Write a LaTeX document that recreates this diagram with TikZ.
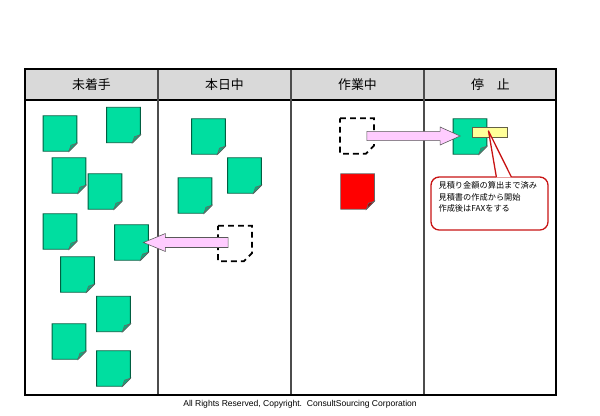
\documentclass[tikz,border=0pt]{standalone}
\usepackage{fontspec}
\setmainfont{Noto Sans CJK JP}
\newfontfamily\footfont{Liberation Sans}
\usetikzlibrary{calc, positioning}
\definecolor{notegreen}{RGB}{0,222,160}
\definecolor{noteedge}{RGB}{0,95,65}
\definecolor{flapgreen}{RGB}{0,180,125}
\definecolor{arrowpink}{RGB}{255,204,255}
\definecolor{memoyellow}{RGB}{255,255,153}
\definecolor{headgray}{RGB}{217,217,217}
\definecolor{callred}{RGB}{200,20,20}

\newcommand\notebody[2]{%
  \draw[#2] (#1.north west) -- (#1.north east) -- ($(#1.south east)+(0,-8)$)
    -- ($(#1.south east)+(-8,0)$) -- (#1.south west) -- cycle;}
\newcommand\noteflap[2]{%
  \filldraw[fill=#2, draw=black!60, line width=0.5pt] ($(#1.south east)+(0,-8)$)
    -- ($(#1.south east)+(-8,0)$) -- ($(#1.south east)+(-6,-6)$) -- cycle;}

\begin{document}
\begin{tikzpicture}[x=0.03cm, y=-0.03cm,
  note/.style={minimum width=1cm, minimum height=1.05cm, inner sep=0pt},
  greennote/.style={fill=notegreen, draw=noteedge, line width=0.8pt},
  rednote/.style={fill=red, draw=black!60, line width=0.6pt},
  dashnote/.style={draw=black, line width=1.5pt, dash pattern=on 5pt off 3.5pt},
  headtext/.style={font=\fontsize{11}{13}\selectfont, inner sep=0pt},
  colline/.style={gray!60!black, line width=0.9pt},
  blockarrow/.style={fill=arrowpink, draw=black!65, line width=0.5pt},
  callbox/.style={draw=callred, line width=1.1pt, rounded corners=7pt, fill=white,
    minimum width=3.51cm, minimum height=1.59cm, inner sep=0pt},
  calltext/.style={font=\fontsize{7}{9.8}\selectfont, align=left, inner sep=0pt}]
  \useasboundingbox (0,0) rectangle (600,415);

  \fill[headgray] (25,69) rectangle (556,100);
  \draw[black, line width=1pt] (25,100) -- (556,100);
  \foreach \x in {158,291,424} {
    \draw[colline] (\x,69) -- (\x,395);
  }
  \draw[black, line width=1.3pt] (25,69) rectangle (556,395);
  \foreach \t [count=\i] in {未着手,本日中,作業中,停　止} {
    \node[headtext] (h\i) at (133*\i-41.5,84.5) {\t};
  }

  \foreach \n/\x/\y in {a1/60/133.5, a2/123.5/125, a3/69/175.5, a4/105/191.5,
      a5/60/231.5, a6/131.5/242.5, a7/77.5/274.5, a8/113.5/314, a9/69/341.5,
      a10/113.5/368.5, b1/208.5/136.5, b2/244.5/175.5, b3/195/195.5, s1/470/136.5} {
    \node[note] (\n) at (\x,\y) {};
    \notebody{\n}{greennote}
    \noteflap{\n}{flapgreen}
  }
  \node[note] (r1) at (357.5,191.5) {};
  \notebody{r1}{rednote}
  \noteflap{r1}{red!65!black}
  \foreach \n/\x/\y in {d2/235/243.5, d3/357/136} {
    \node[note] (\n) at (\x,\y) {};
    \notebody{\n}{dashnote}
  }

  \draw[blockarrow] ($(d2.west |- a6.east)+(10,-5)$) -- ($(a6.east)+(17,-5)$)
    -- ($(a6.east)+(17,-9)$) -- ($(a6.east)+(-5,0)$) -- ($(a6.east)+(17,9)$)
    -- ($(a6.east)+(17,5)$) -- ($(d2.west |- a6.east)+(10,5)$) -- cycle;
  \draw[blockarrow] ($(d3.east)+(-7,-4.7)$) -- ($(s1.west |- d3.east)+(-13,-4.7)$)
    -- ($(s1.west |- d3.east)+(-13,-9)$) -- ($(s1.west |- d3.east)+(7,0)$)
    -- ($(s1.west |- d3.east)+(-13,9)$) -- ($(s1.west |- d3.east)+(-13,4.7)$)
    -- ($(d3.east)+(-7,4.7)$) -- cycle;

  \node[fill=memoyellow, draw=black!70!yellow, line width=0.5pt, inner sep=0pt,
    minimum width=1.05cm, minimum height=0.3cm] (memo) at (489.5,132) {};

  \node[callbox] (call) at (489.5,203.5) {};
  \coordinate (tip) at ($(memo.center)+(-1,-1)$);
  \fill[white] ($(call.north west)+(66,1)$) -- (tip) -- ($(call.north west)+(81,1)$) -- cycle;
  \draw[callred, line width=1.1pt, line join=round] ($(call.north west)+(66,0.6)$) -- (tip)
    -- ($(call.north west)+(81,0.6)$);
  \node[calltext, anchor=north west] (ctext) at ($(call.north west)+(8,5)$)
    {見積り金額の算出まで済み\\見積書の作成から開始\\作成後はFAXをする};

  \node[font=\footfont\fontsize{7.3}{9}\selectfont, inner sep=0pt] (foot) at (300,404)
    {All Rights Reserved, Copyright.\ \ ConsultSourcing Corporation};
\end{tikzpicture}
\end{document}
